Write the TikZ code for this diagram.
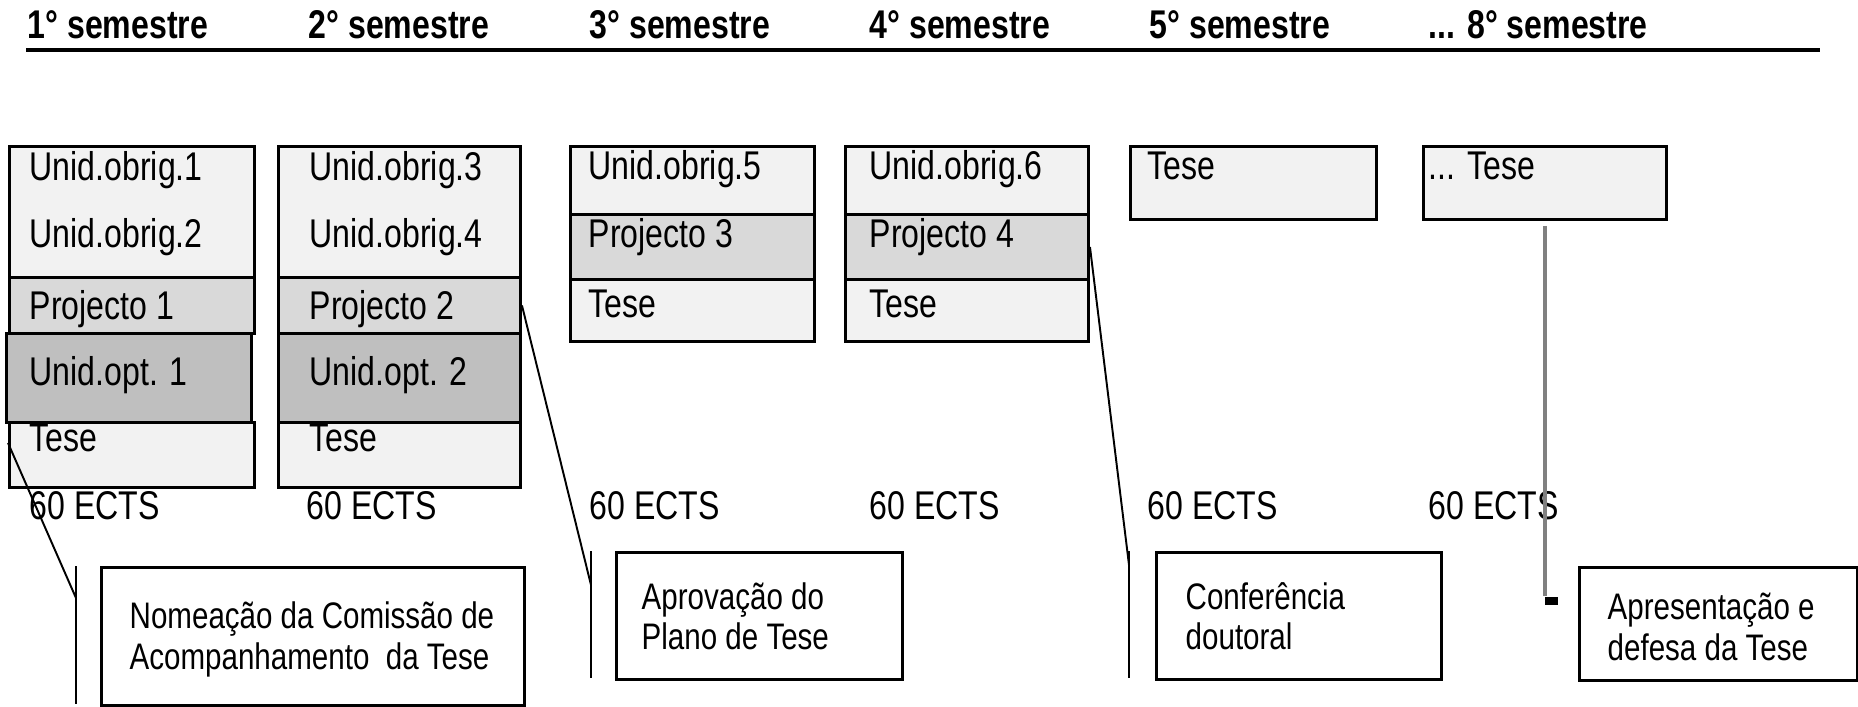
\documentclass[tikz,border=0pt]{standalone}
\usepackage{fontspec}
\setmainfont{Liberation Sans}[FakeStretch=0.8]
\usetikzlibrary{positioning}
\begin{document}
\begin{tikzpicture}[
x=0.01cm, y=-0.01cm,
line/.style={draw,line width=0.55pt},
grayl/.style={draw,line width=0.9pt,color=black!50},
bigl/.style={draw,line width=1.3pt},
bar/.style={draw,line width=0.8pt},
cell/.style={draw,line width=0.8pt,anchor=north west,inner sep=0pt},
obrig/.style={cell,fill=black!5},
proj/.style={cell,fill=black!15},
opt/.style={cell,fill=black!25},
txt/.style={anchor=base west,inner sep=0pt,font=\fontsize{11.4}{13}\selectfont},
head/.style={txt,font=\fontsize{11.4}{13}\selectfont\bfseries},
note/.style={draw,line width=0.8pt,anchor=north west,inner sep=0pt},
notetxt/.style={anchor=west,align=left,inner sep=0pt,font=\fontsize{10.5}{11.4}\selectfont},
]
\useasboundingbox (0,0) rectangle (1858,706);

%semesters
\node[head] (h1) at (27,38) {1° semestre};
\node[head] (h2) at (308,38) {2° semestre};
\node[head] (h3) at (589,38) {3° semestre};
\node[head] (h4) at (869,38) {4° semestre};
\node[head] (h5) at (1149,38) {5° semestre};
\node[head] (h6) at (1428,38) {... 8° semestre};
\path[bigl] (26,50) -- (1820,50);

%1st semester
\node[obrig,minimum width=2.45cm,minimum height=1.31cm] (c1obrig) at (8,145) {};
	\node[proj,minimum width=2.45cm,minimum height=0.56cm] (c1proj) at (8,276) {};
	\node[opt,minimum width=2.45cm,minimum height=0.89cm] (c1opt) at (5,332) {};
	\node[obrig,minimum width=2.45cm,minimum height=0.65cm] (c1tese) at (8,421) {};
\node[txt] (t1a) at (29,180) {Unid.obrig.1};
\node[txt] (t1b) at (29,247) {Unid.obrig.2};
\node[txt] (t1c) at (29,319) {Projecto 1};
\node[txt] (t1d) at (29,385) {Unid.opt. 1};
\node[txt] (t1e) at (29,451) {Tese};

%2nd semester
\node[obrig,minimum width=2.42cm,minimum height=1.31cm] (c2obrig) at (277,145) {};
	\node[proj,minimum width=2.42cm,minimum height=0.56cm] (c2proj) at (277,276) {};
	\node[opt,minimum width=2.42cm,minimum height=0.89cm] (c2opt) at (277,332) {};
	\node[obrig,minimum width=2.42cm,minimum height=0.65cm] (c2tese) at (277,421) {};
\node[txt] (t2a) at (309,180) {Unid.obrig.3};
\node[txt] (t2b) at (309,247) {Unid.obrig.4};
\node[txt] (t2c) at (309,319) {Projecto 2};
\node[txt] (t2d) at (309,385) {Unid.opt. 2};
\node[txt] (t2e) at (309,451) {Tese};

%3rd semester
\node[obrig,minimum width=2.44cm,minimum height=0.68cm] (c3obrig) at (569,145) {};
	\node[proj,minimum width=2.44cm,minimum height=0.65cm] (c3proj) at (569,213) {};
	\node[obrig,minimum width=2.44cm,minimum height=0.62cm] (c3tese) at (569,278) {};
\node[txt] (t3a) at (588,179) {Unid.obrig.5};
\node[txt] (t3b) at (588,247) {Projecto 3};
\node[txt] (t3c) at (588,317) {Tese};

%4th semester
\node[obrig,minimum width=2.43cm,minimum height=0.68cm] (c4obrig) at (844,145) {};
	\node[proj,minimum width=2.43cm,minimum height=0.65cm] (c4proj) at (844,213) {};
	\node[obrig,minimum width=2.43cm,minimum height=0.62cm] (c4tese) at (844,278) {};
\node[txt] (t4a) at (869,179) {Unid.obrig.6};
\node[txt] (t4b) at (869,247) {Projecto 4};
\node[txt] (t4c) at (869,317) {Tese};

%5th and 8th semester
\node[obrig,minimum width=2.46cm,minimum height=0.73cm] (c5tese) at (1129,145) {};
\node[obrig,minimum width=2.43cm,minimum height=0.73cm] (c6tese) at (1422,145) {};
\node[txt] (t5a) at (1147,179) {Tese};
\node[txt] (t6a) at (1428,179) {... Tese};

%credits
\node[txt] (e1) at (29,519) {60 ECTS};
\node[txt] (e2) at (306,519) {60 ECTS};
\node[txt] (e3) at (589,519) {60 ECTS};
\node[txt] (e4) at (869,519) {60 ECTS};
\node[txt] (e5) at (1147,519) {60 ECTS};
\node[txt] (e6) at (1428,519) {60 ECTS};

%milestones
\node[note,minimum width=4.23cm,minimum height=1.38cm] (n1) at (100,566) {};
\node[note,minimum width=2.86cm,minimum height=1.27cm] (n2) at (615,551) {};
\node[note,minimum width=2.85cm,minimum height=1.27cm] (n3) at (1155,551) {};
\node[note,minimum width=2.78cm,minimum height=1.13cm] (n4) at (1578,566) {};
\node[notetxt] (n1t) at ([xshift=0.29cm,yshift=-0.03cm]n1.west) {Nomeação da Comissão de\\Acompanhamento\ \ da Tese};
\node[notetxt] (n2t) at ([xshift=0.26cm]n2.west) {Aprovação do\\Plano de Tese};
\node[notetxt] (n3t) at ([xshift=0.30cm]n3.west) {Conferência\\doutoral};
\node[notetxt] (n4t) at ([xshift=0.29cm,yshift=-0.03cm]n4.west) {Apresentação e\\defesa da Tese};

\coordinate (b1top) at (76,566);
\coordinate (b1bot) at (76,704);
\coordinate (b1end) at (76,598);
\coordinate (b2top) at (591,551);
\coordinate (b2bot) at (591,678);
\coordinate (b2end) at (591,585);
\coordinate (b3top) at (1129,551);
\coordinate (b3bot) at (1129,678);
\coordinate (b3end) at (1129,565);
\node[fill,inner sep=0pt,minimum width=0.13cm,minimum height=0.08cm,anchor=west] (sq) at (1544,601) {};

\path[bar] (b1top) -- (b1bot);
\path[bar] (b2top) -- (b2bot);
\path[bar] (b3top) -- (b3bot);

\path[line] ([yshift=0.12cm]c1tese.west) -- (b1end);
\path[line] (c2proj.east) -- (b2end);
\path[line] (c4proj.east) -- (b3end);
\path[grayl] ([yshift=-0.05cm]c6tese.south) -- (c6tese.south |- sq.north);

\end{tikzpicture}
\end{document}
